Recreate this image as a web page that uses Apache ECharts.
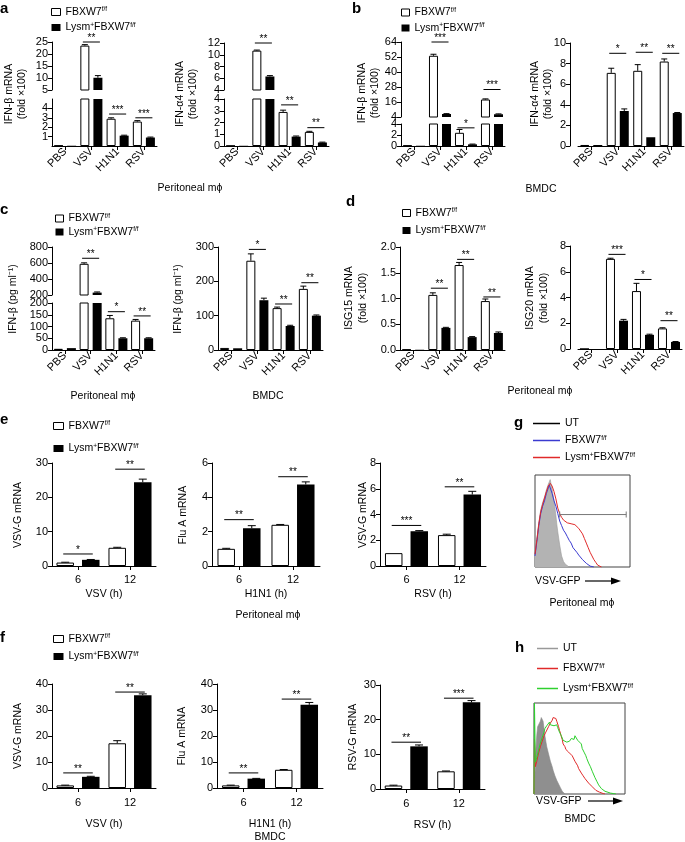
<!DOCTYPE html>
<html><head><meta charset="utf-8">
<script src="https://cdn.jsdelivr.net/npm/echarts@6/dist/echarts.min.js"></script>
<style>html,body{margin:0;padding:0;background:#fff}#c{width:685px;height:842px}</style>
</head><body><div id="c"></div>
<script>
const FONT = '"Liberation Sans", Arial, Helvetica, sans-serif';

// ---------- categories / tick labels
const virusCats = ['PBS', 'VSV', 'H1N1', 'RSV'];
const hourCats = ['6', '12'];

// ---------- panel a : Peritoneal mϕ
const aIfnbWT = [0.05, 23.5, 2.9, 2.6];
const aIfnbWTErr = [0, 0.4, 0.1, 0.1];
const aIfnbKO = [0.03, 10.1, 1.1, 0.9];
const aIfnbKOErr = [0, 0.9, 0.05, 0.05];
const aIfnbSig = [[1, 25, 2], [2, 3.4, 3], [3, 3.0, 3]];
const aIfnaWT = [0.02, 10.7, 2.9, 1.2];
const aIfnaWTErr = [0, 0.1, 0.15, 0.05];
const aIfnaKO = [0.02, 6.3, 0.8, 0.3];
const aIfnaKOErr = [0, 0.15, 0.05, 0.03];
const aIfnaSig = [[1, 12, 2], [2, 3.5, 2], [3, 1.56, 2]];

// ---------- panel b : BMDC
const bIfnbWT = [0.1, 53, 2.4, 18];
const bIfnbWTErr = [0, 1.2, 0.6, 0.5];
const bIfnbKO = [0.05, 6.4, 0.3, 6.2];
const bIfnbKOErr = [0, 0.3, 0.05, 0.3];
const bIfnbSig = [[1, 64, 3], [2, 3.3, 1], [3, 26, 3]];
const bIfnaWT = [0.1, 7.1, 7.3, 8.2];
const bIfnaWTErr = [0, 0.45, 0.6, 0.25];
const bIfnaKO = [0.1, 3.4, 0.85, 3.2];
const bIfnaKOErr = [0, 0.2, 0, 0.05];
const bIfnaSig = [[1, 9.0, 1], [2, 9.1, 2], [3, 9.0, 2]];

// ---------- panel c : IFN-β protein
const cPerWT = [5, 590, 135, 125];
const cPerWTErr = [0, 12, 12, 5];
const cPerKO = [8, 230, 50, 50];
const cPerKOErr = [0, 8, 2, 2];
const cPerSig = [[1, 659, 2], [2, 163, 1], [3, 145, 2]];
const cBmdcWT = [6, 260, 122, 178];
const cBmdcWTErr = [0, 20, 3, 8];
const cBmdcKO = [5, 145, 70, 100];
const cBmdcKOErr = [0, 6, 2, 2];
const cBmdcSig = [[1, 293, 1], [2, 134, 2], [3, 196, 2]];

// ---------- panel d : ISG15 / ISG20
const dIsg15WT = [0.01, 1.07, 1.65, 0.95];
const dIsg15WTErr = [0, 0.04, 0.05, 0.04];
const dIsg15KO = [0.005, 0.43, 0.25, 0.33];
const dIsg15KOErr = [0, 0.01, 0.01, 0.02];
const dIsg15Sig = [[1, 1.2, 2], [2, 1.76, 2], [3, 1.03, 2]];
const dIsg20WT = [0, 7.0, 4.5, 1.6];
const dIsg20WTErr = [0, 0.05, 0.6, 0.05];
const dIsg20KO = [0, 2.2, 1.1, 0.55];
const dIsg20KOErr = [0, 0.1, 0.05, 0.03];
const dIsg20Sig = [[1, 7.35, 3], [2, 5.4, 1], [3, 2.2, 2]];

// ---------- panel e : Peritoneal mϕ, viral RNA
const eVsvWT = [1.0, 5.3], eVsvWTErr = [0.1, 0.15];
const eVsvKO = [1.8, 24.4], eVsvKOErr = [0.1, 0.9];
const eVsvSig = [[0, 3.5, 1], [1, 28.2, 2]];
const eFluWT = [1.0, 2.4], eFluWTErr = [0.03, 0.02];
const eFluKO = [2.2, 4.75], eFluKOErr = [0.15, 0.15];
const eFluSig = [[0, 2.7, 2], [1, 5.2, 2]];
const eRsvWT = [1.0, 2.4], eRsvWTErr = [0, 0.07];
const eRsvKO = [2.7, 5.55], eRsvKOErr = [0.05, 0.25];
const eRsvSig = [[0, 3.15, 3], [1, 6.15, 2]];

// ---------- panel f : BMDC, viral RNA
const fVsvWT = [1.0, 17.2], fVsvWTErr = [0.1, 1.0];
const fVsvKO = [4.3, 35.7], fVsvKOErr = [0.2, 0.5];
const fVsvSig = [[0, 5.8, 2], [1, 36.9, 2]];
const fFluWT = [1.0, 7.0], fFluWTErr = [0.1, 0.1];
const fFluKO = [3.6, 32], fFluKOErr = [0.1, 0.9];
const fFluSig = [[0, 5.8, 2], [1, 34.2, 2]];
const fRsvWT = [1.0, 5.1], fRsvWTErr = [0.1, 0.1];
const fRsvKO = [12.3, 25], fRsvKOErr = [0.4, 0.5];
const fRsvSig = [[0, 13.5, 2], [1, 26.2, 3]];

// ---------- panel g : VSV-GFP histograms, peritoneal mϕ  ([fluorescence %, count %])
const gUT = [[0,14],[2,30],[4,48],[6,62],[8,70],[10,76],[12,84],[14,90],[16,95],[17,93],[18,85],[20,72],[22,56],[23,46],[24,38],[26,24],[28,12],[30,6],[32,3],[34,1],[36,0]];
const gFB = [[0,12],[2,28],[4,45],[6,58],[8,66],[10,72],[12,80],[14,86],[15,89],[16,88],[18,80],[20,72],[22,66],[24,58],[26,50],[28,45],[30,40],[32,37],[34,33],[36,29],[38,26],[40,21],[42,20],[44,16],[46,13],[48,11],[50,8],[52,6],[54,4],[56,2.5],[58,1],[60,0.5],[62,0]];
const gKO = [[0,14],[2,30],[4,47],[6,60],[8,68],[10,75],[12,82],[14,88],[16,91],[17,92],[18,88],[20,82],[22,74],[24,64],[26,58],[28,54],[30,51],[32,49],[34,48],[36,49],[38,47],[40,48],[42,46],[44,45],[46,42],[48,40],[50,36],[52,31],[54,26],[56,21],[58,16],[60,12],[62,8],[64,5],[66,2],[68,1],[70,0]];
const gGate = [[26,57],[96,57]];

// ---------- panel h : VSV-GFP histograms, BMDC
const hUT = [[0,0],[1,20],[2,48],[3,64],[4,74],[5,72],[6,76],[7,80],[8,84],[9,85],[10,80],[11,72],[12,64],[13,58],[14,52],[16,44],[18,36],[20,30],[21,26],[23,20],[25,15],[27,11],[29,7],[31,3],[32,1],[34,0]];
const hFB = [[0,0],[0.5,60],[1.5,30],[3,36],[5,45],[7,52],[9,58],[11,64],[13,68],[14,70],[16,74],[18,78],[20,81],[21,84],[22,82],[23,86],[24,83],[25,80],[26,78],[27,74],[28,70],[29,67],[30,63],[31,60],[32,55],[33,54],[34,52],[35,49],[36,47],[37,48],[38,46],[39,47],[40,45],[42,42],[44,40],[45,36],[46,37],[47,34],[48,31],[49,28],[50,26],[51,27],[52,23],[54,20],[56,17],[58,15],[60,12],[62,10],[64,8],[66,6],[68,4],[70,3],[72,2],[74,1],[76,0.5],[78,0]];
const hKO = [[0,0],[0.5,100],[1.5,35],[3,40],[5,48],[7,56],[9,62],[11,68],[12,72],[14,75],[16,77],[17,79],[18,76],[20,78],[22,75],[24,77],[25,76],[26,73],[28,68],[30,64],[32,59],[34,58],[36,57],[38,56],[39,58],[40,57],[41,61],[43,63],[44,60],[45,64],[47,63],[48,59],[50,57],[52,55],[53,50],[55,46],[57,42],[58,39],[60,34],[62,30],[64,25],[65,23],[67,18],[69,14],[71,10],[72,8],[74,6],[76,4],[78,3],[80,2],[84,1],[87,0.5],[90,0]];

// ================= builders =================
const grids = [], xAxes = [], yAxes = [], series = [], legends = [], graphics = [];

function addGrid(left, top, width, height, extra) {
  grids.push(Object.assign({left, top, width, height, outerBoundsMode: 'none', containLabel: false}, extra || {}));
  return grids.length - 1;
}
function valueAxis(g, min, max, interval, offset, fmt) {
  return {type: 'value', gridIndex: g, min, max, interval, offset: offset || 0,
    axisLine: {show: true, lineStyle: {color: '#000', width: 1}},
    axisTick: {show: true, length: 4, lineStyle: {color: '#000', width: 1}},
    axisLabel: {show: true, color: '#000', fontSize: 11, fontFamily: FONT, margin: 4, formatter: fmt},
    splitLine: {show: false}};
}
function catAxis(g, cats, show, rotate, margin, name, nameGap) {
  return {type: 'category', gridIndex: g, data: cats, boundaryGap: true,
    name: name || '', nameLocation: 'middle', nameGap: nameGap || 0,
    nameTextStyle: {color: '#000', fontSize: 10.5, fontFamily: FONT},
    axisLine: {show: show, lineStyle: {color: '#000', width: 1}},
    axisTick: {show: show, alignWithLabel: true, length: 4, lineStyle: {color: '#000', width: 1}},
    axisLabel: {show: show, interval: 0, rotate: rotate, color: '#000', fontSize: 11, fontFamily: FONT, margin: margin},
    splitLine: {show: false}};
}
function errSeries(g, vals, errs, off, cap) {
  return {type: 'custom', xAxisIndex: g, yAxisIndex: g, clip: true, z: 3, silent: true,
    data: vals.map((v, i) => [i, v, errs[i]]),
    renderItem: function (p, api) {
      const e = api.value(2);
      if (!(e > 0)) return null;
      const b = api.coord([api.value(0), api.value(1)]);
      const t = api.coord([api.value(0), api.value(1) + e]);
      const x = b[0] + off;
      return {type: 'group', children: [
        {type: 'line', shape: {x1: x, y1: b[1], x2: x, y2: t[1]}, style: {stroke: '#000', lineWidth: 1}},
        {type: 'line', shape: {x1: x - cap, y1: t[1], x2: x + cap, y2: t[1]}, style: {stroke: '#000', lineWidth: 1}}]};
    }};
}
function sigSeries(g, sig, half) {
  return {type: 'custom', xAxisIndex: g, yAxisIndex: g, clip: false, z: 5, silent: true, data: sig,
    renderItem: function (p, api) {
      const c = api.coord([api.value(0), api.value(1)]);
      const n = api.value(2);
      return {type: 'group', children: [
        {type: 'line', shape: {x1: c[0] - half, y1: c[1], x2: c[0] + half, y2: c[1]}, style: {stroke: '#000', lineWidth: 1}},
        {type: 'text', x: c[0], y: c[1] + 1, style: {text: '*'.repeat(n), align: 'center', verticalAlign: 'bottom',
          textAlign: 'center', textVerticalAlign: 'bottom', fontSize: 10, fontFamily: FONT, fill: '#000'}}]};
    }};
}
function addBars(g, wt, wtErr, ko, koErr, bw, gapPct, cap) {
  const off = (bw + bw * gapPct / 100) / 2;
  series.push({type: 'bar', name: 'WT', xAxisIndex: g, yAxisIndex: g, data: wt, barWidth: bw, barGap: gapPct + '%',
    clip: true, silent: true, itemStyle: {color: '#fff', borderColor: '#000', borderWidth: 1}});
  series.push({type: 'bar', name: 'KO', xAxisIndex: g, yAxisIndex: g, data: ko, barWidth: bw, barGap: gapPct + '%',
    clip: true, silent: true, itemStyle: {color: '#000', borderColor: '#000', borderWidth: 0}});
  series.push(errSeries(g, wt, wtErr, -off, cap));
  series.push(errSeries(g, ko, koErr, off, cap));
  return off;
}
// simple (unbroken) bar chart
function barChart(c) {
  const g = addGrid(c.left, c.top, c.width, c.height);
  xAxes.push(catAxis(g, c.cats, true, c.rotate, c.margin, c.xName, c.nameGap));
  yAxes.push(valueAxis(g, c.y[0], c.y[1], c.y[2], c.offset, c.fmt));
  const off = addBars(g, c.wt, c.wtErr, c.ko, c.koErr, c.bw, c.gap, c.cap);
  series.push(sigSeries(g, c.sig, off + 2));
}
// broken y axis bar chart: hi segment above lo segment
function brokenChart(c) {
  const gt = addGrid(c.left, c.hi.top, c.width, c.hi.height);
  xAxes.push(catAxis(gt, c.cats, false, 0, 0));
  yAxes.push(valueAxis(gt, c.hi.y[0], c.hi.y[1], c.hi.y[2], c.offset));
  const off = addBars(gt, c.wt, c.wtErr, c.ko, c.koErr, c.bw, c.gap, c.cap);
  const gl = addGrid(c.left, c.lo.top, c.width, c.lo.height);
  xAxes.push(catAxis(gl, c.cats, true, 45, 4));
  yAxes.push(valueAxis(gl, c.lo.y[0], c.lo.y[1], c.lo.y[2], c.offset));
  addBars(gl, c.wt, c.wtErr, c.ko, c.koErr, c.bw, c.gap, c.cap);
  series.push(sigSeries(gt, c.sig.filter(s => s[1] > c.lo.y[1]), off + 2));
  series.push(sigSeries(gl, c.sig.filter(s => s[1] <= c.lo.y[1]), off + 2));
}
function histChart(left, top, width, height, lines) {
  const g = addGrid(left, top, width, height, {show: true, borderColor: '#444', borderWidth: 1, backgroundColor: 'transparent'});
  xAxes.push({type: 'value', gridIndex: g, min: 0, max: 100, show: false});
  yAxes.push({type: 'value', gridIndex: g, min: 0, max: 100, show: false});
  lines.forEach(l => {
    const s = {type: 'line', name: l.name, xAxisIndex: g, yAxisIndex: g, data: l.data, symbol: 'none', showSymbol: false,
      silent: true, clip: true, z: l.z || 2, itemStyle: {color: l.legendColor || l.color},
      lineStyle: {color: l.color, width: l.width || 1}};
    if (l.area) s.areaStyle = {color: l.area, opacity: 1};
    if (l.gate) { s.symbol = 'rect'; s.symbolSize = [1, 6]; s.showSymbol = true; }
    series.push(s);
  });
}

// ================= panels =================
// a
brokenChart({cats: virusCats, left: 52, width: 105, offset: 0,
  hi: {top: 42, height: 48, y: [5, 25, 5]}, lo: {top: 99, height: 47, y: [0, 5, 1]},
  wt: aIfnbWT, wtErr: aIfnbWTErr, ko: aIfnbKO, koErr: aIfnbKOErr, sig: aIfnbSig, bw: 9, gap: 45, cap: 3});
brokenChart({cats: virusCats, left: 224, width: 105, offset: 0,
  hi: {top: 43, height: 47, y: [4, 12, 2]}, lo: {top: 99, height: 47, y: [0, 4, 1]},
  wt: aIfnaWT, wtErr: aIfnaWTErr, ko: aIfnaKO, koErr: aIfnaKOErr, sig: aIfnaSig, bw: 9, gap: 45, cap: 3});
// b
brokenChart({cats: virusCats, left: 401, width: 104, offset: 0,
  hi: {top: 42, height: 75, y: [4, 64, 12]}, lo: {top: 124, height: 22, y: [0, 4, 2]},
  wt: bIfnbWT, wtErr: bIfnbWTErr, ko: bIfnbKO, koErr: bIfnbKOErr, sig: bIfnbSig, bw: 9, gap: 45, cap: 3});
barChart({cats: virusCats, left: 578, top: 43, width: 106, height: 103, offset: 8, y: [0, 10, 2], rotate: 45, margin: 4,
  wt: bIfnaWT, wtErr: bIfnaWTErr, ko: bIfnaKO, koErr: bIfnaKOErr, sig: bIfnaSig, bw: 9, gap: 45, cap: 3});
// c
brokenChart({cats: virusCats, left: 52, width: 103, offset: 0,
  hi: {top: 247, height: 48, y: [200, 800, 200]}, lo: {top: 303, height: 47, y: [0, 200, 50]},
  wt: cPerWT, wtErr: cPerWTErr, ko: cPerKO, koErr: cPerKOErr, sig: cPerSig, bw: 9, gap: 45, cap: 3});
barChart({cats: virusCats, left: 218, top: 247, width: 105, height: 103, offset: 0, y: [0, 300, 100], rotate: 45, margin: 4,
  wt: cBmdcWT, wtErr: cBmdcWTErr, ko: cBmdcKO, koErr: cBmdcKOErr, sig: cBmdcSig, bw: 9, gap: 45, cap: 3});
// d
barChart({cats: virusCats, left: 400, top: 247, width: 105, height: 103, offset: 0, y: [0, 2, 0.5], rotate: 45, margin: 4,
  fmt: v => v.toFixed(1),
  wt: dIsg15WT, wtErr: dIsg15WTErr, ko: dIsg15KO, koErr: dIsg15KOErr, sig: dIsg15Sig, bw: 9, gap: 45, cap: 3});
barChart({cats: virusCats, left: 578, top: 246, width: 104, height: 103, offset: 8, y: [0, 8, 2], rotate: 45, margin: 4,
  wt: dIsg20WT, wtErr: dIsg20WTErr, ko: dIsg20KO, koErr: dIsg20KOErr, sig: dIsg20Sig, bw: 9, gap: 45, cap: 3});
// e
barChart({cats: hourCats, left: 52, top: 463, width: 104, height: 103, offset: 0, y: [0, 30, 10], rotate: 0, margin: 8,
  xName: 'VSV (h)', nameGap: 23,
  wt: eVsvWT, wtErr: eVsvWTErr, ko: eVsvKO, koErr: eVsvKOErr, sig: eVsvSig, bw: 17.5, gap: 46, cap: 4});
barChart({cats: hourCats, left: 212, top: 463, width: 108, height: 103, offset: 0, y: [0, 6, 2], rotate: 0, margin: 8,
  xName: 'H1N1 (h)', nameGap: 23,
  wt: eFluWT, wtErr: eFluWTErr, ko: eFluKO, koErr: eFluKOErr, sig: eFluSig, bw: 17.5, gap: 46, cap: 4});
barChart({cats: hourCats, left: 380, top: 463, width: 106, height: 103, offset: 0, y: [0, 8, 2], rotate: 0, margin: 8,
  xName: 'RSV (h)', nameGap: 23,
  wt: eRsvWT, wtErr: eRsvWTErr, ko: eRsvKO, koErr: eRsvKOErr, sig: eRsvSig, bw: 17.5, gap: 46, cap: 4});
// f
barChart({cats: hourCats, left: 52, top: 684, width: 104, height: 104, offset: 0, y: [0, 40, 10], rotate: 0, margin: 9,
  xName: 'VSV (h)', nameGap: 31,
  wt: fVsvWT, wtErr: fVsvWTErr, ko: fVsvKO, koErr: fVsvKOErr, sig: fVsvSig, bw: 17.5, gap: 46, cap: 4});
barChart({cats: hourCats, left: 217, top: 684, width: 106, height: 104, offset: 0, y: [0, 40, 10], rotate: 0, margin: 9,
  xName: 'H1N1 (h)', nameGap: 31,
  wt: fFluWT, wtErr: fFluWTErr, ko: fFluKO, koErr: fFluKOErr, sig: fFluSig, bw: 17.5, gap: 46, cap: 4});
barChart({cats: hourCats, left: 380, top: 685, width: 105, height: 104, offset: 0, y: [0, 30, 10], rotate: 0, margin: 9,
  xName: 'RSV (h)', nameGap: 31,
  wt: fRsvWT, wtErr: fRsvWTErr, ko: fRsvKO, koErr: fRsvKOErr, sig: fRsvSig, bw: 17.5, gap: 46, cap: 4});
// g
histChart(535, 475, 95, 92, [
  {name: 'gUT', data: gUT, color: '#9a9a9a', width: 0.6, area: '#b3b3b3', legendColor: '#000', z: 1},
  {name: 'gFB', data: gFB, color: '#3b3bd0'},
  {name: 'gKO', data: gKO, color: '#e02a2a'},
  {name: 'gGate', data: gGate, color: '#777', gate: true}]);
// h
histChart(534, 703, 91, 91, [
  {name: 'hUT', data: hUT, color: '#8a8a8a', width: 0.6, area: '#8f8f8f', legendColor: '#999', z: 1},
  {name: 'hFB', data: hFB, color: '#e02a2a'},
  {name: 'hKO', data: hKO, color: '#2fd02f'}]);

// ================= legends =================
const legendLabel = {
  WT: '{t|FBXW7}{s|f/f}', KO: '{t|Lysm}{s|+}{t|FBXW7}{s|f/f}',
  gUT: '{t|UT}', gFB: '{t|FBXW7}{s|f/f}', gKO: '{t|Lysm}{s|+}{t|FBXW7}{s|f/f}',
  hUT: '{t|UT}', hFB: '{t|FBXW7}{s|f/f}', hKO: '{t|Lysm}{s|+}{t|FBXW7}{s|f/f}'
};
const richSup = {
  t: {fontSize: 10.5, fontFamily: FONT, color: '#000', lineHeight: 12},
  s: {fontSize: 6.5, fontFamily: FONT, color: '#000', lineHeight: 12, verticalAlign: 'top'}
};
function barLegend(left, top, gap, iw) {
  legends.push({orient: 'vertical', left, top, itemGap: gap, padding: 0, icon: 'rect', itemWidth: iw, itemHeight: 7,
    selectedMode: false, formatter: n => legendLabel[n],
    textStyle: {fontSize: 10.5, fontFamily: FONT, color: '#000', rich: richSup},
    data: [{name: 'WT', itemStyle: {color: '#fff', borderColor: '#000', borderWidth: 1}},
           {name: 'KO', itemStyle: {color: '#000', borderWidth: 0}}]});
}
barLegend(51, 6, 4, 9);
barLegend(401, 6.5, 4, 8);
barLegend(55, 212.5, 2, 8);
barLegend(402, 207, 6, 8);
barLegend(53, 420, 11, 10);
barLegend(53, 633, 6, 10);
function lineLegend(left, top, gap, iw, names) {
  legends.push({orient: 'vertical', left, top, itemGap: gap, padding: 0, icon: 'rect', itemWidth: iw, itemHeight: 1.5,
    selectedMode: false, formatter: n => legendLabel[n],
    textStyle: {fontSize: 10.5, fontFamily: FONT, color: '#000', rich: richSup}, data: names});
}
lineLegend(533, 418, 5.5, 27, ['gUT', 'gFB', 'gKO']);
lineLegend(537, 643, 8.5, 21, ['hUT', 'hFB', 'hKO']);

// ================= text annotations =================
function txt(text, x, y, opt) {
  opt = opt || {};
  graphics.push({type: 'text', x, y, rotation: opt.rot || 0, silent: true,
    style: {text, fill: '#000', fontSize: opt.size || 10.5, fontFamily: FONT, fontWeight: opt.bold ? 'bold' : 'normal',
      align: opt.align || 'center', textAlign: opt.align || 'center', verticalAlign: 'middle', textVerticalAlign: 'middle',
      lineHeight: opt.lh || 14}});
}
const R = Math.PI / 2;
// panel letters
[['a', 0, 9], ['b', 352, 9], ['c', 0, 210], ['d', 346, 202], ['e', 0, 420], ['f', 0, 638], ['g', 514, 423], ['h', 515, 648]]
  .forEach(l => txt(l[0], l[1], l[2], {bold: true, size: 15, align: 'left'}));
// y-axis titles
txt('IFN-β mRNA\n(fold ×100)', 15.5, 94, {rot: R, lh: 13});
txt('IFN-α4 mRNA\n(fold ×100)', 187, 94, {rot: R, lh: 13});
txt('IFN-β mRNA\n(fold ×100)', 369, 93, {rot: R, lh: 13});
txt('IFN-α4 mRNA\n(fold ×100)', 542, 94, {rot: R, lh: 13});
txt('IFN-β (pg ml⁻¹)', 13, 299, {rot: R});
txt('IFN-β (pg ml⁻¹)', 178, 299, {rot: R});
txt('ISG15 mRNA\n(fold ×100)', 356.5, 298, {rot: R, lh: 14});
txt('ISG20 mRNA\n(fold ×100)', 537, 298, {rot: R, lh: 14});
txt('VSV-G mRNA', 18, 515, {rot: R});
txt('Flu A mRNA', 183, 515, {rot: R});
txt('VSV-G mRNA', 363, 515, {rot: R});
txt('VSV-G mRNA', 18, 736, {rot: R});
txt('Flu A mRNA', 182, 736, {rot: R});
txt('RSV-G mRNA', 353, 737, {rot: R});
// cell-type captions
txt('Peritoneal mϕ', 190, 188);
txt('BMDC', 541, 189);
txt('Peritoneal mϕ', 103, 396);
txt('BMDC', 268, 396);
txt('Peritoneal mϕ', 540, 391);
txt('Peritoneal mϕ', 268, 615);
txt('BMDC', 270, 837);
txt('Peritoneal mϕ', 582, 603);
txt('BMDC', 580, 819);
// flow x-axis labels with arrows
txt('VSV-GFP', 535, 581, {align: 'left'});
txt('VSV-GFP', 536, 801, {align: 'left'});
graphics.push({type: 'line', shape: {x1: 585, y1: 581, x2: 613, y2: 581}, style: {stroke: '#000', lineWidth: 1.2}, silent: true});
graphics.push({type: 'polygon', shape: {points: [[611, 577.5], [621, 581], [611, 584.5]]}, style: {fill: '#000'}, silent: true});
graphics.push({type: 'line', shape: {x1: 588, y1: 801, x2: 615, y2: 801}, style: {stroke: '#000', lineWidth: 1.2}, silent: true});
graphics.push({type: 'polygon', shape: {points: [[613, 797.5], [623, 801], [613, 804.5]]}, style: {fill: '#000'}, silent: true});

const chart = echarts.init(document.getElementById('c'), null, {renderer: 'canvas', width: 685, height: 842});
chart.setOption({
  animation: false, backgroundColor: '#fff', textStyle: {fontFamily: FONT},
  grid: grids, xAxis: xAxes, yAxis: yAxes, series: series, legend: legends,
  graphic: {elements: graphics}
});
</script></body></html>
